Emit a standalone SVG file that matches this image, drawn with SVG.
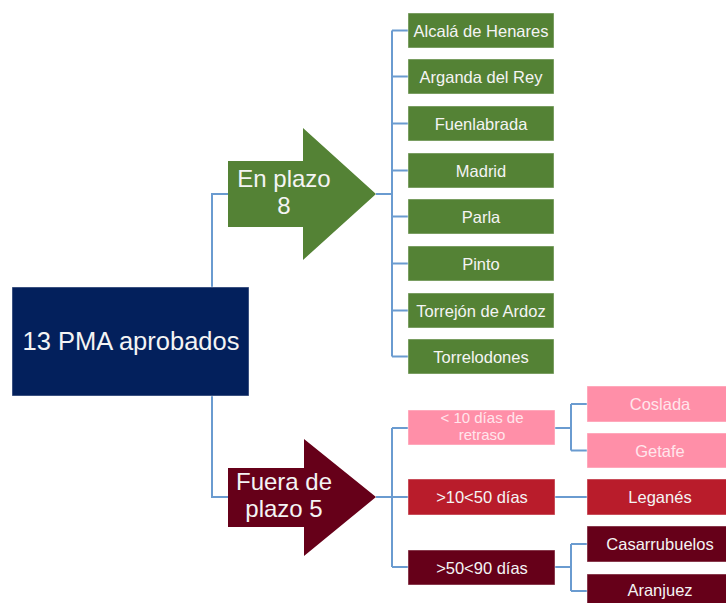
<svg xmlns="http://www.w3.org/2000/svg" width="726" height="603" viewBox="0 0 726 603">
<style>
.c{fill:none;stroke:#6A9BD0;stroke-width:2}
.bx{stroke:#ffffff;stroke-opacity:0.45;stroke-width:1}
.g{fill:#548235}
.m{fill:#660019}
.r{fill:#B91C2B}
.p{fill:#FF8FA8}
.t{font-family:"Liberation Sans",Arial,sans-serif;fill:#F4F4F4;text-anchor:middle}
.s{font-size:16.5px}
.b{font-size:24px}
.tp{fill:#FFE6EC}
</style>
<rect width="726" height="603" fill="#ffffff"/>
<g id="connectors">
<path class="c" d="M212,287 V194 H228 M212,396 V497 H228"/>
<path class="c" d="M376,194 H392 M392,30.5 V356.5 M392,30.5 H408 M392,76.5 H408 M392,123.5 H408 M392,170.5 H408 M392,216.5 H408 M392,263.5 H408 M392,310.5 H408 M392,356.5 H408"/>
<path class="c" d="M376,497 H392 M392,428 V567 M392,428 H408 M392,497 H408 M392,567 H408"/>
<path class="c" d="M555,428 H571 M571,404 V450.5 M571,404 H587 M571,450.5 H587"/>
<path class="c" d="M555,497 H587"/>
<path class="c" d="M555,567 H571 M571,544 V591 M571,544 H587 M571,591 H587"/>
</g>
<g id="root">
<rect x="12" y="287" width="237" height="109" fill="#03205C" class="bx"/>
<text class="t" style="font-size:25.5px" x="131" y="350">13 PMA aprobados</text>
</g>
<g id="en-plazo">
<polygon class="g" points="228,161 303,161 303,128 376,194 303,260 303,227 228,227"/>
<text class="t b" x="284" y="187">En plazo</text>
<text class="t b" x="284" y="214">8</text>
</g>
<g id="fuera-plazo">
<polygon class="m" points="228,468 304,468 304,439 376,497 304,556 304,527 228,527"/>
<text class="t b" x="284" y="490">Fuera de</text>
<text class="t b" x="284" y="517">plazo 5</text>
</g>
<g id="alcala"><rect class="g bx" x="408" y="13" width="146" height="35"/><text class="t s" x="481" y="36.5">Alcalá de Henares</text></g>
<g id="arganda"><rect class="g bx" x="408" y="59" width="146" height="35"/><text class="t s" x="481" y="82.5">Arganda del Rey</text></g>
<g id="fuenlabrada"><rect class="g bx" x="408" y="106" width="146" height="35"/><text class="t s" x="481" y="129.5">Fuenlabrada</text></g>
<g id="madrid"><rect class="g bx" x="408" y="153" width="146" height="35"/><text class="t s" x="481" y="176.5">Madrid</text></g>
<g id="parla"><rect class="g bx" x="408" y="199" width="146" height="35"/><text class="t s" x="481" y="222.5">Parla</text></g>
<g id="pinto"><rect class="g bx" x="408" y="246" width="146" height="35"/><text class="t s" x="481" y="269.5">Pinto</text></g>
<g id="torrejon"><rect class="g bx" x="408" y="293" width="146" height="35"/><text class="t s" x="481" y="316.5">Torrejón de Ardoz</text></g>
<g id="torrelodones"><rect class="g bx" x="408" y="339" width="146" height="35"/><text class="t s" x="481" y="362.5">Torrelodones</text></g>
<g id="menos10"><rect class="p bx" x="408" y="410" width="147" height="35"/><text class="t tp" style="font-size:15px" x="482" y="422.5">&lt; 10 días de</text><text class="t tp" style="font-size:15px" x="482" y="439.5">retraso</text></g>
<g id="d10-50"><rect class="r bx" x="408" y="479" width="147" height="36"/><text class="t s" x="482" y="503">&gt;10&lt;50 días</text></g>
<g id="d50-90"><rect class="m bx" x="408" y="550" width="147" height="35"/><text class="t s" x="482" y="573.5">&gt;50&lt;90 días</text></g>
<g id="coslada"><rect class="p bx" x="587" y="386" width="146" height="36"/><text class="t s tp" x="660" y="410">Coslada</text></g>
<g id="getafe"><rect class="p bx" x="587" y="433" width="146" height="35"/><text class="t s tp" x="660" y="456.5">Getafe</text></g>
<g id="leganes"><rect class="r bx" x="587" y="479" width="146" height="36"/><text class="t s" x="660" y="503">Leganés</text></g>
<g id="casarrubuelos"><rect class="m bx" x="587" y="526" width="146" height="36"/><text class="t s" x="660" y="550">Casarrubuelos</text></g>
<g id="aranjuez"><rect class="m bx" x="587" y="574" width="146" height="36"/><text class="t s" x="660" y="596">Aranjuez</text></g>
</svg>
